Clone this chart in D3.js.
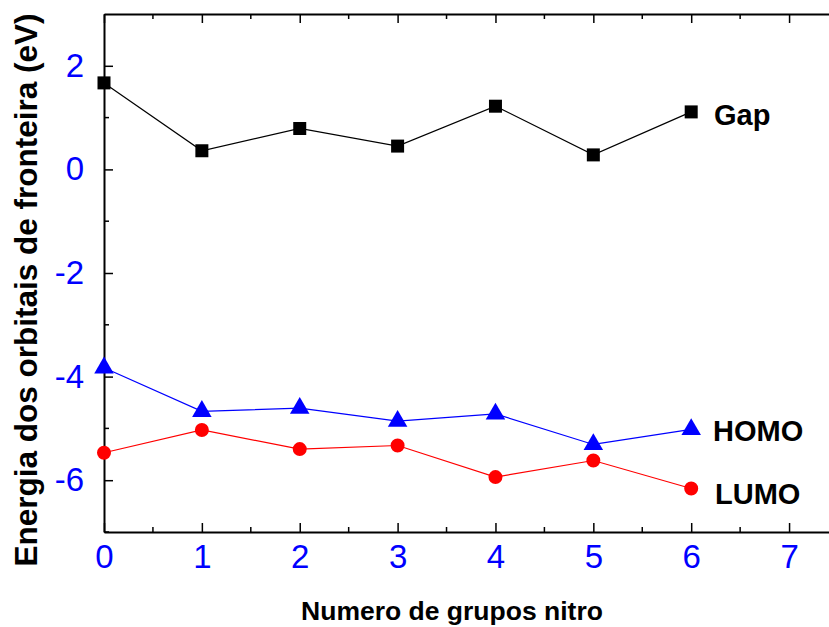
<!DOCTYPE html>
<html>
<head>
<meta charset="utf-8">
<script src="https://cdn.jsdelivr.net/npm/d3@7"></script>
<style>
  body { margin: 0; background: #fff; }
  svg { display: block; font-family: "Liberation Sans", Arial, sans-serif; }
</style>
</head>
<body>
<div id="chart"></div>
<script>
// number of nitro groups
const nitro = [0, 1, 2, 3, 4, 5, 6];
// energies (eV)
const gap  = [1.67, 0.36, 0.79, 0.45, 1.22, 0.28, 1.11];
const homo = [-3.83, -4.67, -4.61, -4.86, -4.72, -5.31, -5.02];
const lumo = [-5.47, -5.03, -5.40, -5.33, -5.94, -5.62, -6.16];

const xTicks = [0, 1, 2, 3, 4, 5, 6, 7];
const yTicks = [-6, -4, -2, 0, 2];

const width = 829, height = 627;
const margin = { left: 104, top: 14, right: -9, bottom: 95 };

const svg = d3.select("#chart").append("svg")
    .attr("width", width)
    .attr("height", height);

// plot box
const x = d3.scaleLinear().domain([0, 7.5]).range([margin.left, width - margin.right]);
const y = d3.scaleLinear().domain([-7, 3]).range([height - margin.bottom, margin.top]);

const majorLen = 9, minorLen = 5;
const xMinor = d3.range(0.5, 7.5, 1);
const yMinor = d3.range(-7, 3, 2);
const plain = d => String(d);   // keeps the ASCII hyphen for negatives

// bottom axis
let axBottom = svg.append("g")
    .attr("transform", `translate(0,${y(-7)})`)
    .call(d3.axisBottom(x).tickValues(xTicks).tickSize(-majorLen).tickSizeOuter(0).tickPadding(13).tickFormat(plain));
axBottom.append("g").attr("class", "minor").selectAll("line").data(xMinor).join("line")
    .attr("x1", d => x(d)).attr("x2", d => x(d)).attr("y1", 0).attr("y2", -minorLen);

// top axis
let axTop = svg.append("g")
    .attr("transform", `translate(0,${y(3)})`)
    .call(d3.axisTop(x).tickValues(xTicks).tickSize(-majorLen).tickSizeOuter(0).tickFormat(""));
axTop.append("g").attr("class", "minor").selectAll("line").data(xMinor).join("line")
    .attr("x1", d => x(d)).attr("x2", d => x(d)).attr("y1", 0).attr("y2", minorLen);

// left axis
let axLeft = svg.append("g")
    .attr("transform", `translate(${x(0)},0)`)
    .call(d3.axisLeft(y).tickValues(yTicks).tickSize(-majorLen).tickSizeOuter(0).tickPadding(20).tickFormat(plain));
axLeft.append("g").attr("class", "minor").selectAll("line").data(yMinor).join("line")
    .attr("y1", d => y(d)).attr("y2", d => y(d)).attr("x1", 0).attr("x2", minorLen);

// right axis (mostly outside the picture)
svg.append("g")
    .attr("transform", `translate(${x(7.5)},0)`)
    .call(d3.axisRight(y).tickValues(yTicks).tickSize(-majorLen).tickSizeOuter(0).tickFormat(""));

svg.selectAll(".domain").attr("stroke", "#000").attr("stroke-width", 2);
svg.selectAll(".tick line, .minor line").attr("stroke", "#000").attr("stroke-width", 1.5);
svg.selectAll(".tick text")
    .attr("fill", "#0000ff")
    .style("font-size", "33px");
axBottom.selectAll(".tick text").attr("dy", "0.71em");

// series
const series = [
  { name: "Gap",  values: gap,  color: "#000000", symbol: d3.symbolSquare,   size: 169, lx: 714, ly: 125 },
  { name: "HOMO", values: homo, color: "#0000ff", symbol: d3.symbolTriangle, size: 165, lx: 713, ly: 441 },
  { name: "LUMO", values: lumo, color: "#ff0000", symbol: d3.symbolCircle,   size: 154, lx: 715, ly: 504 }
];

const line = d3.line().x(d => x(d[0])).y(d => y(d[1]));

series.forEach(s => {
  const pts = nitro.map((n, i) => [n, s.values[i]]);
  svg.append("path")
      .datum(pts)
      .attr("d", line)
      .attr("fill", "none")
      .attr("stroke", s.color)
      .attr("stroke-width", 1.2);
  svg.append("g").selectAll("path").data(pts).join("path")
      .attr("transform", d => `translate(${x(d[0])},${y(d[1])})`)
      .attr("d", d3.symbol().type(s.symbol).size(s.size))
      .attr("fill", s.color);
  svg.append("text")
      .attr("x", s.lx).attr("y", s.ly)
      .style("font-size", "29px").style("font-weight", "bold")
      .text(s.name);
});

// axis titles
svg.append("text")
    .attr("x", 452).attr("y", 620)
    .attr("text-anchor", "middle")
    .style("font-size", "26.5px").style("font-weight", "bold")
    .text("Numero de grupos nitro");

svg.append("text")
    .attr("transform", "translate(37,290) rotate(-90)")
    .attr("text-anchor", "middle")
    .style("font-size", "31.5px").style("font-weight", "bold")
    .text("Energia dos orbitais de fronteira (eV)");
</script>
</body>
</html>
